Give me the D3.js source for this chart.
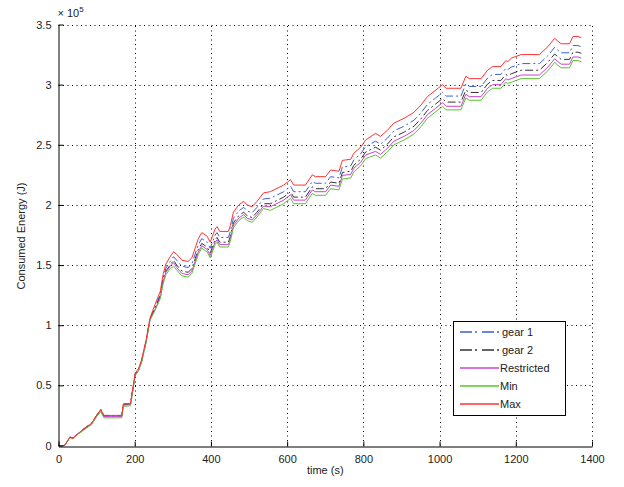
<!DOCTYPE html>
<html>
<head>
<meta charset="utf-8">
<script src="https://cdn.jsdelivr.net/npm/d3@7"></script>
<style>
  body { margin: 0; background: #fff; }
  text { font-family: "Liberation Sans", Arial, sans-serif; }
</style>
</head>
<body>
<svg id="chart"></svg>
<script>
// time (s)
var time = [0, 16, 30, 38, 46, 52, 65, 74, 87, 100, 111, 119, 166, 170, 189, 201, 210, 218, 230, 240,
            253, 267, 275, 282, 293, 302, 310, 324, 340, 350, 367, 376, 390, 398, 411, 416, 423, 446, 451, 459,
            473, 486, 495, 508, 521, 538, 556, 591, 609, 617, 648, 666, 674, 701, 714, 736, 745, 767, 775, 793,
            806, 832, 845, 863, 880, 907, 933, 951, 968, 990, 1008, 1017, 1056, 1069, 1078, 1109, 1126, 1139, 1161, 1174,
            1179, 1188, 1214, 1262, 1284, 1302, 1311, 1319, 1341, 1350, 1363, 1372]

// consumed energy, in units of 1e5 J
var gear1 = [0, 0, 0.07, 0.06, 0.087, 0.10, 0.135, 0.156, 0.185, 0.25,
             0.30, 0.25, 0.25, 0.345, 0.35, 0.59, 0.63, 0.70, 0.87, 1.05,
             1.15, 1.255, 1.40, 1.475, 1.53, 1.57, 1.54, 1.49, 1.48, 1.51,
             1.67, 1.72, 1.69, 1.64, 1.75, 1.77, 1.73, 1.73, 1.78, 1.89,
             1.95, 1.98, 1.95, 1.935, 1.98, 2.05, 2.055, 2.11, 2.155, 2.11,
             2.11, 2.195, 2.18, 2.18, 2.235, 2.225, 2.315, 2.325, 2.375, 2.425,
             2.485, 2.53, 2.505, 2.555, 2.615, 2.655, 2.705, 2.765, 2.835, 2.89,
             2.935, 2.905, 2.905, 3.005, 2.985, 2.985, 3.055, 3.085, 3.085, 3.135,
             3.125, 3.145, 3.175, 3.175, 3.24, 3.31, 3.285, 3.265, 3.265, 3.325, 3.325, 3.315]

var gear2 = [0, 0, 0.07, 0.06, 0.087, 0.10, 0.135, 0.156, 0.185, 0.25,
             0.295, 0.245, 0.245, 0.34, 0.345, 0.59, 0.63, 0.70, 0.87, 1.05,
             1.14, 1.24, 1.38, 1.45, 1.50, 1.54, 1.50, 1.45, 1.44, 1.47,
             1.63, 1.68, 1.65, 1.60, 1.71, 1.73, 1.69, 1.69, 1.74, 1.85,
             1.91, 1.94, 1.91, 1.895, 1.94, 2.01, 2.01, 2.065, 2.11, 2.065,
             2.065, 2.15, 2.135, 2.135, 2.19, 2.18, 2.27, 2.28, 2.33, 2.38,
             2.44, 2.48, 2.455, 2.505, 2.565, 2.605, 2.655, 2.715, 2.785, 2.84,
             2.885, 2.855, 2.855, 2.955, 2.935, 2.935, 3.005, 3.035, 3.035, 3.085,
             3.075, 3.09, 3.12, 3.12, 3.185, 3.255, 3.23, 3.21, 3.21, 3.27, 3.27, 3.26]

var restricted = [0, 0, 0.07, 0.06, 0.087, 0.10, 0.13, 0.15, 0.18, 0.245,
                  0.29, 0.24, 0.24, 0.335, 0.34, 0.585, 0.625, 0.695, 0.865, 1.045,
                  1.13, 1.23, 1.37, 1.44, 1.49, 1.52, 1.48, 1.43, 1.42, 1.45,
                  1.61, 1.66, 1.63, 1.58, 1.69, 1.71, 1.67, 1.67, 1.72, 1.83,
                  1.89, 1.92, 1.89, 1.875, 1.92, 1.99, 1.985, 2.04, 2.085, 2.04,
                  2.04, 2.125, 2.11, 2.11, 2.165, 2.155, 2.245, 2.255, 2.305, 2.355,
                  2.415, 2.445, 2.42, 2.47, 2.53, 2.57, 2.62, 2.68, 2.75, 2.805,
                  2.85, 2.82, 2.82, 2.92, 2.90, 2.90, 2.97, 3.00, 3.00, 3.05,
                  3.04, 3.05, 3.08, 3.08, 3.145, 3.215, 3.19, 3.17, 3.17, 3.23, 3.23, 3.22]

var minE = [0, 0, 0.065, 0.055, 0.08, 0.095, 0.125, 0.145, 0.175, 0.24,
            0.28, 0.23, 0.23, 0.325, 0.33, 0.58, 0.62, 0.69, 0.86, 1.04,
            1.12, 1.22, 1.35, 1.42, 1.47, 1.49, 1.46, 1.41, 1.40, 1.43,
            1.59, 1.64, 1.61, 1.56, 1.67, 1.69, 1.65, 1.65, 1.70, 1.81,
            1.87, 1.90, 1.87, 1.855, 1.90, 1.97, 1.955, 2.01, 2.055, 2.01,
            2.01, 2.095, 2.08, 2.08, 2.135, 2.125, 2.215, 2.225, 2.275, 2.325,
            2.385, 2.415, 2.39, 2.44, 2.50, 2.54, 2.59, 2.65, 2.72, 2.775,
            2.82, 2.79, 2.79, 2.89, 2.87, 2.87, 2.94, 2.97, 2.97, 3.02,
            3.01, 3.02, 3.05, 3.05, 3.115, 3.185, 3.16, 3.14, 3.14, 3.20, 3.20, 3.19]

var maxE = [0, 0, 0.07, 0.06, 0.087, 0.10, 0.135, 0.156, 0.185, 0.25,
            0.30, 0.25, 0.25, 0.345, 0.35, 0.60, 0.64, 0.71, 0.88, 1.06,
            1.17, 1.28, 1.43, 1.51, 1.57, 1.61, 1.59, 1.54, 1.53, 1.56,
            1.72, 1.77, 1.74, 1.69, 1.80, 1.82, 1.78, 1.78, 1.83, 1.94,
            2.00, 2.03, 2.00, 1.985, 2.03, 2.10, 2.11, 2.165, 2.21, 2.165,
            2.165, 2.25, 2.235, 2.235, 2.29, 2.28, 2.37, 2.38, 2.43, 2.48,
            2.54, 2.595, 2.57, 2.62, 2.68, 2.72, 2.77, 2.83, 2.90, 2.955,
            3.00, 2.97, 2.97, 3.07, 3.05, 3.05, 3.12, 3.15, 3.15, 3.20,
            3.19, 3.22, 3.25, 3.25, 3.315, 3.385, 3.36, 3.34, 3.34, 3.40, 3.40, 3.39]

var xTicks = [0, 200, 400, 600, 800, 1000, 1200, 1400]
var xTickLabels = ["0", "200", "400", "600", "800", "1000", "1200", "1400"]
var yTicks = [0, 0.5, 1, 1.5, 2, 2.5, 3, 3.5]
var yTickLabels = ["0", "0.5", "1", "1.5", "2", "2.5", "3", "3.5"]

var seriesNames = ["gear 1", "gear 2", "Restricted", "Min", "Max"]
var seriesValues = [gear1, gear2, restricted, minE, maxE]
var seriesColors = ["#3d5fd6", "#333333", "#cc44cc", "#5cc234", "#ff3333"]
var seriesDash = ["8,3,2,3", "8,3,2,3", "none", "none", "none"]

var svg_dimensions = {
    width: 624,
    height: 487,
    margin: { top: 24.5, bottom: 41.5, right: 32, left: 58.5 }
}

var svg = d3.select("#chart")
            .attr("width", svg_dimensions.width)
            .attr("height", svg_dimensions.height)

var xScale = d3.scaleLinear()
               .domain([0, 1400])
               .range([svg_dimensions.margin.left, svg_dimensions.width - svg_dimensions.margin.right])

var yScale = d3.scaleLinear()
               .domain([0, 3.5])
               .range([svg_dimensions.height - svg_dimensions.margin.bottom, svg_dimensions.margin.top])

var x0 = xScale(0), x1 = xScale(1400), y0 = yScale(0), y1 = yScale(3.5)

// dotted grid
var grid = svg.append("g")
              .attr("stroke", "#000")
              .attr("stroke-width", 1)
              .attr("stroke-dasharray", "1,3.5")

grid.selectAll(".vgrid")
    .data(xTicks.slice(1))
    .enter()
    .append("line")
    .attr("x1", d => Math.round(xScale(d)) + 0.5)
    .attr("x2", d => Math.round(xScale(d)) + 0.5)
    .attr("y1", y0)
    .attr("y2", y1)

grid.selectAll(".hgrid")
    .data(yTicks.slice(1))
    .enter()
    .append("line")
    .attr("x1", x0)
    .attr("x2", x1)
    .attr("y1", d => Math.round(yScale(d)) + 0.5)
    .attr("y2", d => Math.round(yScale(d)) + 0.5)

// series
var line = d3.line()
             .x((d, i) => xScale(time[i]))
             .y(d => yScale(d))

svg.append("g")
   .selectAll("path")
   .data(seriesValues)
   .enter()
   .append("path")
   .attr("d", d => line(d))
   .style("fill", "none")
   .style("stroke", (d, i) => seriesColors[i])
   .style("stroke-width", 1)
   .style("stroke-dasharray", (d, i) => seriesDash[i])

// axes (ticks point inward like matlab)
var xAxisGen = d3.axisBottom(xScale).tickValues(xTicks).tickFormat((d, i) => xTickLabels[i])
                 .tickSizeInner(-5).tickSizeOuter(0).tickPadding(9)
var xAxis = svg.append("g")
               .attr("transform", `translate(0,${Math.round(y0) + 0.5})`)
               .call(xAxisGen)

var yAxisGen = d3.axisLeft(yScale).tickValues(yTicks).tickFormat((d, i) => yTickLabels[i])
                 .tickSizeInner(-5).tickSizeOuter(0).tickPadding(7)
var yAxis = svg.append("g")
               .attr("transform", `translate(${Math.round(x0) - 0.5},0)`)
               .call(yAxisGen)

svg.selectAll(".tick text")
   .attr("font-size", "11px")
   .attr("font-family", "Liberation Sans, Arial, sans-serif")
   .attr("fill", "#222")
svg.selectAll(".domain").attr("stroke", "#000")
svg.selectAll(".tick line").attr("stroke", "#000")

// exponent label
var expLab = svg.append("text")
                .attr("x", x0 - 1)
                .attr("y", 17)
                .attr("font-size", "11px")
                .attr("fill", "#222")
expLab.append("tspan").text("\u00d7 10")
expLab.append("tspan").attr("dy", -5).attr("font-size", "8px").text("5")

var xLab = svg.append("text")
              .attr("x", (x0 + x1) / 2)
              .attr("y", 474)
              .attr("text-anchor", "middle")
              .attr("font-size", "11px")
              .attr("fill", "#222")
              .text("time (s)")

var yLab = svg.append("text")
              .attr("transform", "rotate(-90)")
              .attr("x", -236)
              .attr("y", 25)
              .attr("text-anchor", "middle")
              .attr("font-size", "11px")
              .attr("fill", "#222")
              .text("Consumed Energy (J)")

// legend
var legend = svg.append("g").attr("transform", "translate(453,321)")

legend.append("rect")
      .attr("x", 0.5)
      .attr("y", 0.5)
      .attr("width", 112)
      .attr("height", 94)
      .style("fill", "#fff")
      .style("stroke", "#000")

var entries = legend.selectAll(".entry")
                    .data(seriesNames)
                    .enter()
                    .append("g")
                    .attr("transform", (d, i) => `translate(0,${11 + i * 18})`)

entries.append("line")
       .attr("x1", 7)
       .attr("x2", 46)
       .style("stroke", (d, i) => seriesColors[i])
       .style("stroke-width", 1.4)
       .style("stroke-dasharray", (d, i) => i < 2 ? "12,3,2,5" : "none")

entries.append("text")
       .attr("x", (d, i) => i < 2 ? 49 : 47)
       .attr("y", 4)
       .attr("font-size", "11px")
       .attr("fill", "#222")
       .text(d => d)
</script>
</body>
</html>
